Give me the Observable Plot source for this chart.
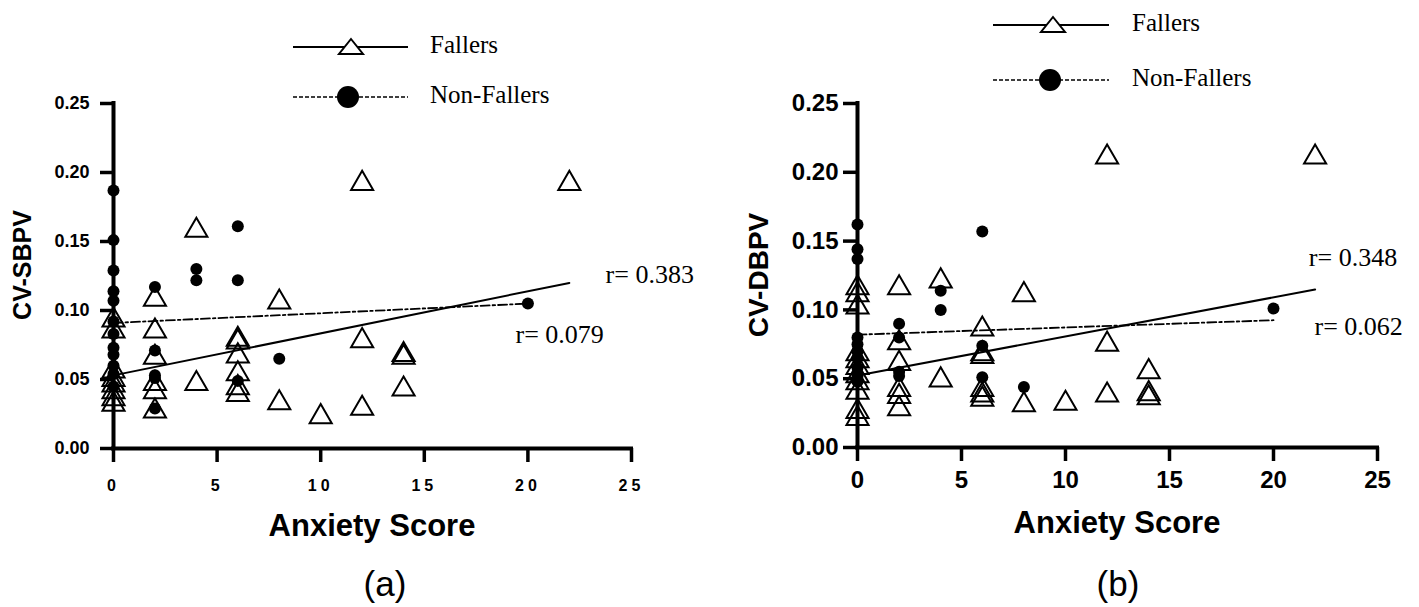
<!DOCTYPE html>
<html><head><meta charset="utf-8">
<script src="https://cdn.jsdelivr.net/npm/d3@7"></script>
<script src="https://cdn.jsdelivr.net/npm/@observablehq/plot@0.6"></script>
<style>
body{margin:0;background:#fff;}
#root{position:relative;width:1419px;height:607px;overflow:hidden;font-family:"Liberation Sans",Arial,sans-serif;color:#000;}
.panel{position:absolute;top:0;}
.lbl{position:absolute;white-space:nowrap;transform:translate(-50%,-50%);line-height:1;}
.rot{transform:translate(-50%,-50%) rotate(-90deg);}
#pa g[aria-label="x-axis tick label"] text{letter-spacing:4px;}
#leg{position:absolute;left:0;top:0;pointer-events:none;}
</style></head>
<body><div id="root"></div>
<script>
// ---- data ----
const xTicks = [0, 5, 10, 15, 20, 25];
const yTicks = [0, 0.05, 0.10, 0.15, 0.20, 0.25];
const seriesNames = ["Fallers", "Non-Fallers"];

// Panel (a): CV-SBPV
const fallersA_x = [0,0,0,0,0,0,0,0, 2,2,2,2,2,2, 4,4, 6,6,6,6,6,6, 8,8, 10, 12,12,12, 14,14,14, 22];
const fallersA_y = [0.093,0.085,0.056,0.050,0.046,0.041,0.036,0.032, 0.108,0.085,0.066,0.047,0.041,0.027, 0.158,0.047, 0.079,0.077,0.067,0.054,0.044,0.039, 0.106,0.033, 0.023, 0.192,0.078,0.029, 0.068,0.066,0.043, 0.192];
const nonA_x = [0,0,0,0,0,0,0,0,0,0,0,0, 2,2,2,2,2, 4,4, 6,6,6, 8, 20];
const nonA_y = [0.187,0.151,0.129,0.114,0.107,0.092,0.083,0.073,0.068,0.060,0.054,0.045, 0.117,0.071,0.053,0.051,0.029, 0.130,0.122, 0.161,0.122,0.049, 0.065, 0.105];
const fitFallersA = {x: [0, 22], y: [0.053, 0.120]};
const fitNonA = {x: [0, 20], y: [0.091, 0.105]};
const rLabelsA = {x: [23.75, 19.4], y: [0.126, 0.0826], text: ["r= 0.383", "r= 0.079"]};

// Panel (b): CV-DBPV
const fallersB_x = [0,0,0,0,0,0,0,0,0,0,0, 2,2,2,2,2,2, 4,4, 6,6,6,6,6,6, 8,8, 10, 12,12,12, 14,14,14, 22];
const fallersB_y = [0.116,0.111,0.102,0.068,0.063,0.058,0.052,0.047,0.040,0.026,0.021, 0.116,0.076,0.061,0.042,0.037,0.028, 0.121,0.049, 0.086,0.068,0.066,0.042,0.038,0.035, 0.111,0.031, 0.032, 0.211,0.075,0.038, 0.055,0.039,0.036, 0.211];
const nonB_x = [0,0,0,0,0,0,0,0,0,0, 2,2,2,2, 4,4, 6,6,6, 8, 20];
const nonB_y = [0.162,0.144,0.137,0.080,0.075,0.070,0.065,0.058,0.052,0.048, 0.090,0.080,0.055,0.052, 0.114,0.100, 0.157,0.074,0.051, 0.044, 0.101];
const fitFallersB = {x: [0, 22], y: [0.0523, 0.1148]};
const fitNonB = {x: [0, 20], y: [0.082, 0.0925]};
const rLabelsB = {x: [21.7, 21.97], y: [0.138, 0.088], text: ["r= 0.348", "r= 0.062"]};

const zip = (xs, ys) => xs.map((x, i) => ({x, y: ys[i]}));
const zipT = (o) => o.x.map((x, i) => ({x, y: o.y[i], text: o.text[i]}));

function panel(c) {
  return Plot.plot({
    width: c.width, height: 607,
    marginLeft: c.ml, marginRight: c.mr, marginTop: c.mt, marginBottom: c.mb,
    x: {domain: [0, 25]},
    y: {domain: [0, 0.25]},
    style: {background: "transparent", fontFamily: "Liberation Sans, Arial, sans-serif", color: "#000", overflow: "visible"},
    marks: [
      Plot.axisY({ticks: yTicks, tickFormat: d => d.toFixed(2), tickSize: c.tsY, tickPadding: c.tpY, strokeWidth: c.axW,
        fontSize: c.fsY, fontWeight: "bold", label: null}),
      Plot.axisX({ticks: xTicks, tickFormat: d => String(d), tickSize: c.tsX, tickPadding: c.tpX, strokeWidth: c.axW,
        fontSize: c.fsX, fontWeight: "bold", label: null}),
      Plot.ruleX([0], {y1: 0, y2: 0.25, strokeWidth: c.axW + 0.5, strokeLinecap: "square"}),
      Plot.ruleY([0], {x1: 0, x2: 25, strokeWidth: c.axW + 0.5, strokeLinecap: "square"}),
      Plot.line(zip(c.fitF.x, c.fitF.y), {x: "x", y: "y", stroke: "black", strokeWidth: 2}),
      Plot.line(zip(c.fitN.x, c.fitN.y), {x: "x", y: "y", stroke: "black", strokeWidth: 1.8, strokeDasharray: "9,3,2.5,3"}),
      Plot.dot(zip(c.fx, c.fy), {x: "x", y: "y", symbol: "triangle", r: 8.2, stroke: "black", strokeWidth: 2, fill: "none"}),
      Plot.dot(zip(c.nx, c.ny), {x: "x", y: "y", r: 6, fill: "black", stroke: "none"}),
      Plot.text(zipT(c.rl), {x: "x", y: "y", text: "text", textAnchor: "start", fontFamily: "Liberation Serif, Times New Roman, serif", fontSize: 26, fill: "black"})
    ]
  });
}

const root = document.getElementById("root");

const pa = panel({width: 709, ml: 113, mr: 78, mt: 103, mb: 159, tsY: 13, tpY: 11, tsX: 14, tpX: 17, fsY: 18, fsX: 16, axW: 3.5,
  fx: fallersA_x, fy: fallersA_y, nx: nonA_x, ny: nonA_y, fitF: fitFallersA, fitN: fitNonA, rl: rLabelsA});
const da = document.createElement("div"); da.className = "panel"; da.id = "pa"; da.style.left = "0px"; da.appendChild(pa); root.appendChild(da);

const pb = panel({width: 709, ml: 147, mr: 42, mt: 103, mb: 160, tsY: 14, tpY: 5, tsX: 14, tpX: 9, fsY: 24, fsX: 24, axW: 3.5,
  fx: fallersB_x, fy: fallersB_y, nx: nonB_x, ny: nonB_y, fitF: fitFallersB, fitN: fitNonB, rl: rLabelsB});
const db = document.createElement("div"); db.className = "panel"; db.id = "pb"; db.style.left = "710px"; db.appendChild(pb); root.appendChild(db);

// ---- titles ----
function label(text, x, y, size, bold, rot) {
  const d = document.createElement("div");
  d.className = "lbl" + (rot ? " rot" : "");
  d.textContent = text;
  d.style.left = x + "px"; d.style.top = y + "px";
  d.style.fontSize = size + "px";
  d.style.fontWeight = bold ? "bold" : "normal";
  root.appendChild(d);
}
label("CV-SBPV", 22, 265, 25, true, true);
label("CV-DBPV", 759, 275, 28, true, true);
label("Anxiety Score", 372, 525, 31, true);
label("Anxiety Score", 1117, 522, 31, true);
label("(a)", 385, 583, 35, false);
label("(b)", 1118, 583, 35, false);

// ---- legends ----
const svg = d3.select(root).append("svg").attr("id", "leg").attr("width", 1419).attr("height", 607);
function legend(x0, x1, tx, symX, y1, y2, fs) {
  const g = svg.append("g");
  g.append("line").attr("x1", x0).attr("x2", x1).attr("y1", y1).attr("y2", y1).attr("stroke", "black").attr("stroke-width", 2);
  g.append("path").attr("d", `M${symX},${y1 - 8}L${symX + 12},${y1 + 7}L${symX - 12},${y1 + 7}Z`)
    .attr("fill", "white").attr("stroke", "black").attr("stroke-width", 2);
  g.append("text").attr("x", tx).attr("y", y1 + 6).text(seriesNames[0])
    .attr("font-family", "Liberation Serif, Times New Roman, serif").attr("font-size", fs);
  g.append("line").attr("x1", x0).attr("x2", x1).attr("y1", y2).attr("y2", y2).attr("stroke", "black").attr("stroke-width", 1.5).attr("stroke-dasharray", "4,2");
  g.append("circle").attr("cx", symX - 3).attr("cy", y2).attr("r", 11).attr("fill", "black");
  g.append("text").attr("x", tx).attr("y", y2 + 6).text(seriesNames[1])
    .attr("font-family", "Liberation Serif, Times New Roman, serif").attr("font-size", fs);
}
legend(293, 408, 430, 351, 47, 97, 25);
legend(993, 1109, 1132, 1053, 25, 80, 25);
</script>
</body></html>
